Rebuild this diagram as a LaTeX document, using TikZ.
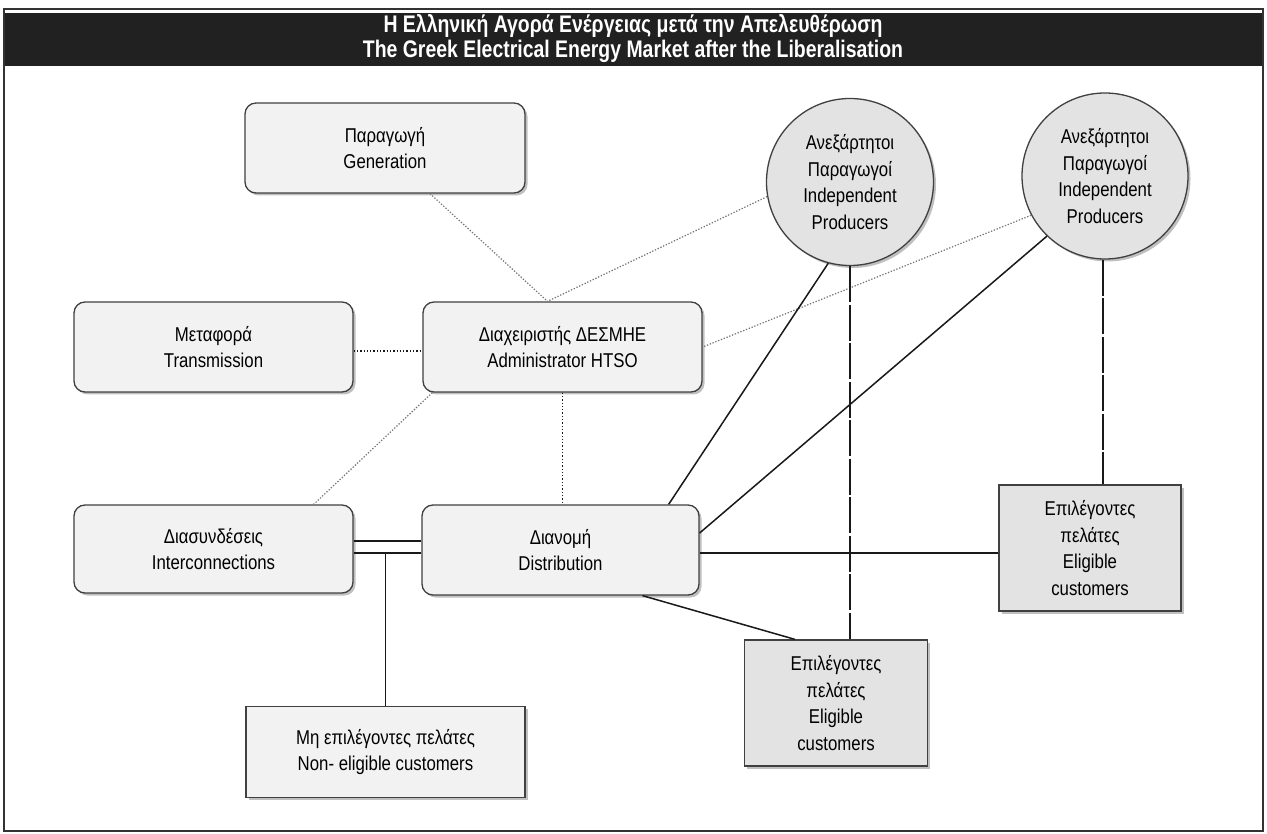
\documentclass[tikz,border=0pt]{standalone}
\usepackage{fontspec}
\setmainfont[FakeStretch=0.84]{Liberation Sans}
\newfontfamily\titlefont[FakeStretch=0.81]{Liberation Sans}
\usetikzlibrary{shadows,calc}
\tikzset{
  boxbase/.style={draw=black!75, line width=1.3pt, inner sep=0pt, align=center,
    font=\fontsize{20}{26.5}\selectfont,
    drop shadow={shadow xshift=2.5pt, shadow yshift=-2.5pt, opacity=0.35, fill=black!70}},
  rbox/.style={boxbase, rectangle, rounded corners=11pt, fill=black!5,
    minimum width=279pt, minimum height=90pt},
  sbox/.style={boxbase, rectangle, fill=black!5, minimum width=279pt, minimum height=91pt},
  ebox/.style={boxbase, rectangle, fill=black!11, minimum width=183pt, minimum height=126pt},
  ipcirc/.style={boxbase, circle, fill=black!11, minimum size=167pt},
  graydot/.style={draw=black!55, line width=1.2pt, dash pattern=on 1.3pt off 1.7pt},
  darkdot/.style={draw=black!90, line width=1.2pt, dash pattern=on 1.3pt off 2pt},
  solidline/.style={draw=black!90, line width=1.5pt},
  longdash/.style={draw=black!90, line width=1.5pt, dash pattern=on 36pt off 2.5pt}
}
\begin{document}
\begin{tikzpicture}[x=1pt,y=-1pt]
\useasboundingbox (0,0) rectangle (1267,834);
\fill[white] (0,0) rectangle (1267,834);
% frame and header
\fill[black!87] (4,13) rectangle (1263,66);
\draw[black!80, line width=1.5pt] (4,9) rectangle (1263,831);
\node[text=white, align=center, font=\titlefont\bfseries\fontsize{24}{25}\selectfont] (title) at (633,39)
  {Η Ελληνική Αγορά Ενέργειας μετά την Απελευθέρωση\\The Greek Electrical Energy Market after the Liberalisation};

% nodes
\node[rbox, minimum width=280pt] (gen) at (385,148) {Παραγωγή\\Generation};
\node[rbox] (trans) at (213.5,347) {Μεταφορά\\Transmission};
\node[rbox] (admin) at (562.5,347) {Διαχειριστής ΔΕΣΜΗΕ\\Administrator HTSO};
\node[rbox, minimum height=88pt] (inter) at (213.5,549) {Διασυνδέσεις\\Interconnections};
\node[rbox, minimum width=277pt] (dist) at (560.5,550) {Διανομή\\Distribution};
\node[ipcirc] (ip1) at (850,182) {Ανεξάρτητοι\\Παραγωγοί\\Independent\\Producers};
\node[ipcirc, minimum size=166pt] (ip2) at (1105,176) {Ανεξάρτητοι\\Παραγωγοί\\Independent\\Producers};
\node[ebox] (el1) at (836,703) {Επιλέγοντες\\πελάτες\\Eligible\\customers};
\node[ebox, minimum width=182pt] (el2) at (1090,548) {Επιλέγοντες\\πελάτες\\Eligible\\customers};
\node[sbox] (non) at (385.5,752) {Μη επιλέγοντες πελάτες\\Non- eligible customers};

% dotted connectors
\coordinate (admtop) at ($(admin.north)+(-15,0)$);
\draw[graydot] ($(gen.south)+(45,0)$) -- (admtop);
\draw[graydot] (ip1.190) -- (admtop);
\draw[graydot] (ip2.208) -- (admin.east);
\draw[graydot] ($(admin.south west)+(10,0)$) -- ($(inter.north east)+(-40,0)$);
\draw[darkdot] ($(trans.east)+(0,4)$) -- ($(admin.west)+(0,4)$);
\draw[darkdot] (admin.south) -- (admin.south |- dist.north);

% solid connectors
\draw[solidline] (ip1.255) -- ($(dist.north east)+(-31,0)$);
\draw[solidline] (ip2.226) -- ($(dist.east)+(0,-17)$);
\coordinate (dE) at ($(dist.east)+(0,3)$);
\draw[solidline] (dE) -- (dE -| el2.west);
\draw[solidline] ($(dist.south)+(82,0)$) -- ($(el1.north west)+(51,0)$);
\draw[longdash] (ip1.south) -- (ip1.south |- el1.north);
\coordinate (ip2s) at ($(ip2.south)+(-2,0)$);
\draw[longdash] (ip2s) -- (ip2s |- el2.north);

% double link interconnections - distribution
\coordinate (iU) at ($(inter.east)+(0,-8)$);
\coordinate (iL) at ($(inter.east)+(0,4)$);
\draw[solidline] (iU) -- (iU -| dist.west);
\draw[solidline] (iL) -- (iL -| dist.west);
\coordinate (tee) at (iL -| non.north);
\draw[solidline] (tee) -- (non.north);
\end{tikzpicture}
\end{document}
